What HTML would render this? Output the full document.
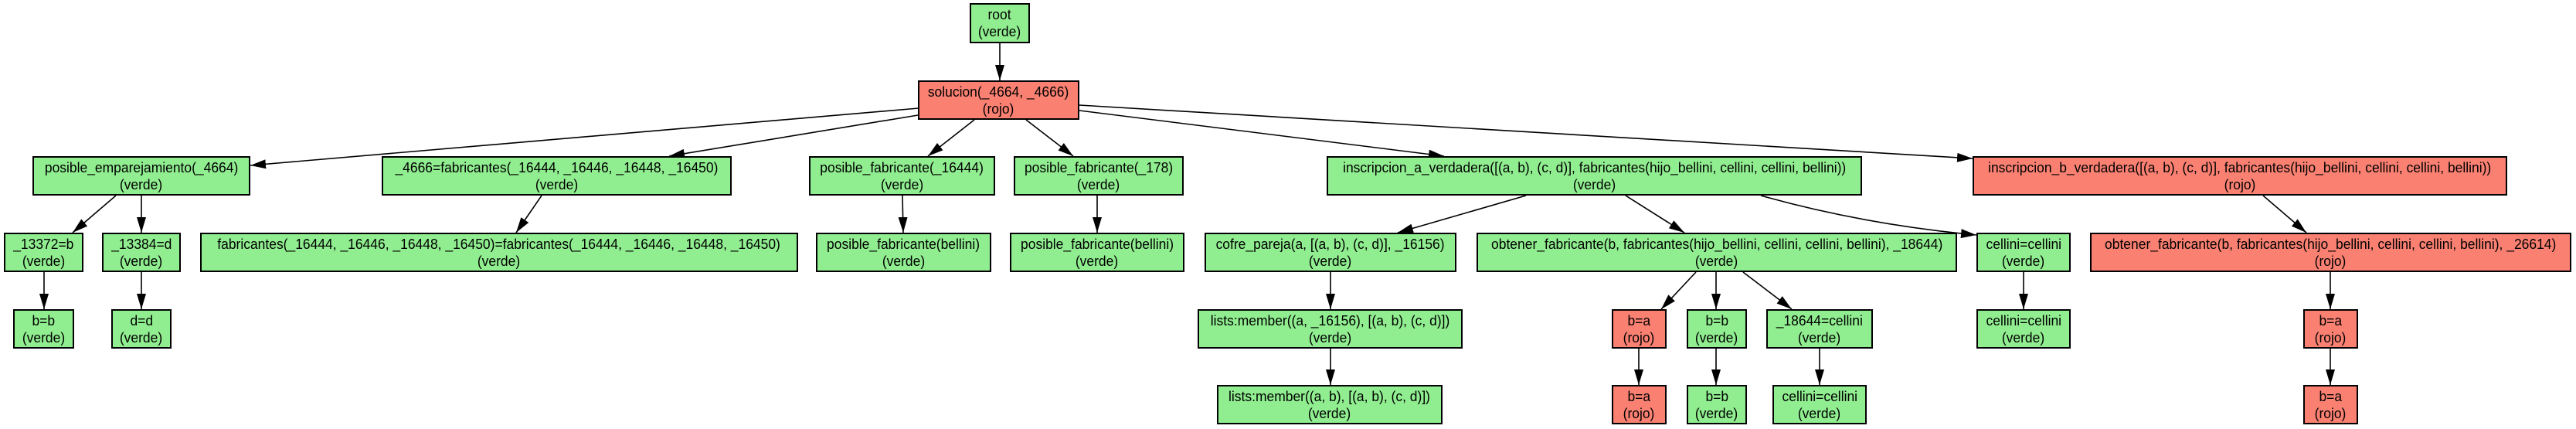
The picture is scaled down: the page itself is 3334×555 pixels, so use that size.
<!DOCTYPE html>
<html><head><meta charset="utf-8"><style>
body{margin:0;width:3334px;height:555px;background:#fff;position:relative;overflow:hidden;font-family:"Liberation Sans",Arial,sans-serif}
.n{position:absolute;box-sizing:border-box;border:2px solid #000;display:flex;flex-direction:column;justify-content:center;align-items:center;font-size:18px;line-height:22px;color:#000;white-space:nowrap;text-align:center}
.n span{display:inline-block;transform:scaleX(0.97)}
.g{background:#90ee90}.r{background:#fa8072}
svg{position:absolute;left:0;top:0}
</style></head><body>
<svg width="3334" height="555">
<defs><marker id="a" markerUnits="userSpaceOnUse" markerWidth="22" markerHeight="12" refX="20" refY="6" orient="auto"><path d="M0,0 L20,6 L0,12 z" fill="#000"/></marker></defs>
<g stroke="#000" stroke-width="1.6" fill="none" marker-end="url(#a)">
<line x1="1294" y1="56" x2="1294" y2="104"/>
<line x1="1189" y1="140" x2="324" y2="214"/>
<line x1="1188" y1="149" x2="866" y2="202"/>
<line x1="1261" y1="155" x2="1201" y2="202"/>
<line x1="1328" y1="155" x2="1389" y2="202"/>
<line x1="1397" y1="143" x2="1869" y2="202"/>
<line x1="1397" y1="136" x2="2553" y2="205"/>
<line x1="150" y1="253" x2="94" y2="301"/>
<line x1="183" y1="253" x2="183" y2="301"/>
<line x1="701" y1="253" x2="668" y2="301"/>
<line x1="1168" y1="253" x2="1169" y2="301"/>
<line x1="1420" y1="253" x2="1420" y2="301"/>
<line x1="1975" y1="253" x2="1809" y2="301"/>
<line x1="2104" y1="253" x2="2180" y2="301"/>
<path d="M2279,253 Q2410,290 2558,304"/>
<line x1="2929" y1="253" x2="2985" y2="301"/>
<line x1="57" y1="352" x2="57" y2="400"/>
<line x1="183" y1="352" x2="183" y2="400"/>
<line x1="1722" y1="352" x2="1722" y2="400"/>
<line x1="2195" y1="352" x2="2150" y2="400"/>
<line x1="2221" y1="352" x2="2221" y2="400"/>
<line x1="2256" y1="352" x2="2319" y2="400"/>
<line x1="2619" y1="352" x2="2619" y2="400"/>
<line x1="3016" y1="352" x2="3016" y2="400"/>
<line x1="1722" y1="451" x2="1722" y2="498"/>
<line x1="2121" y1="451" x2="2121" y2="498"/>
<line x1="2221" y1="451" x2="2221" y2="498"/>
<line x1="2355" y1="451" x2="2355" y2="498"/>
<line x1="3016" y1="451" x2="3016" y2="498"/>
</g></svg>

<div class="n g" style="left:1255px;top:4px;width:78px;height:52px"><span>root</span><span>(verde)</span></div>
<div class="n r" style="left:1188px;top:104px;width:209px;height:51px"><span>solucion(_4664, _4666)</span><span>(rojo)</span></div>

<div class="n g" style="left:42px;top:202px;width:282px;height:51px"><span>posible_emparejamiento(_4664)</span><span>(verde)</span></div>
<div class="n g" style="left:494px;top:202px;width:453px;height:51px"><span>_4666=fabricantes(_16444, _16446, _16448, _16450)</span><span>(verde)</span></div>
<div class="n g" style="left:1047px;top:202px;width:241px;height:51px"><span>posible_fabricante(_16444)</span><span>(verde)</span></div>
<div class="n g" style="left:1312px;top:202px;width:220px;height:51px"><span>posible_fabricante(_178)</span><span>(verde)</span></div>
<div class="n g" style="left:1717px;top:202px;width:693px;height:51px"><span>inscripcion_a_verdadera([(a, b), (c, d)], fabricantes(hijo_bellini, cellini, cellini, bellini))</span><span>(verde)</span></div>
<div class="n r" style="left:2553px;top:202px;width:692px;height:51px"><span>inscripcion_b_verdadera([(a, b), (c, d)], fabricantes(hijo_bellini, cellini, cellini, bellini))</span><span>(rojo)</span></div>

<div class="n g" style="left:5px;top:301px;width:103px;height:51px"><span>_13372=b</span><span>(verde)</span></div>
<div class="n g" style="left:132px;top:301px;width:102px;height:51px"><span>_13384=d</span><span>(verde)</span></div>
<div class="n g" style="left:259px;top:301px;width:774px;height:51px"><span>fabricantes(_16444, _16446, _16448, _16450)=fabricantes(_16444, _16446, _16448, _16450)</span><span>(verde)</span></div>
<div class="n g" style="left:1056px;top:301px;width:227px;height:51px"><span>posible_fabricante(bellini)</span><span>(verde)</span></div>
<div class="n g" style="left:1307px;top:301px;width:226px;height:51px"><span>posible_fabricante(bellini)</span><span>(verde)</span></div>
<div class="n g" style="left:1559px;top:301px;width:326px;height:51px"><span>cofre_pareja(a, [(a, b), (c, d)], _16156)</span><span>(verde)</span></div>
<div class="n g" style="left:1911px;top:301px;width:622px;height:51px"><span>obtener_fabricante(b, fabricantes(hijo_bellini, cellini, cellini, bellini), _18644)</span><span>(verde)</span></div>
<div class="n g" style="left:2558px;top:301px;width:122px;height:51px"><span>cellini=cellini</span><span>(verde)</span></div>
<div class="n r" style="left:2705px;top:301px;width:623px;height:51px"><span>obtener_fabricante(b, fabricantes(hijo_bellini, cellini, cellini, bellini), _26614)</span><span>(rojo)</span></div>

<div class="n g" style="left:17px;top:400px;width:79px;height:51px"><span>b=b</span><span>(verde)</span></div>
<div class="n g" style="left:144px;top:400px;width:78px;height:51px"><span>d=d</span><span>(verde)</span></div>
<div class="n g" style="left:1550px;top:400px;width:343px;height:51px"><span>lists:member((a, _16156), [(a, b), (c, d)])</span><span>(verde)</span></div>
<div class="n r" style="left:2086px;top:400px;width:71px;height:51px"><span>b=a</span><span>(rojo)</span></div>
<div class="n g" style="left:2183px;top:400px;width:78px;height:51px"><span>b=b</span><span>(verde)</span></div>
<div class="n g" style="left:2286px;top:400px;width:138px;height:51px"><span>_18644=cellini</span><span>(verde)</span></div>
<div class="n g" style="left:2558px;top:400px;width:122px;height:51px"><span>cellini=cellini</span><span>(verde)</span></div>
<div class="n r" style="left:2981px;top:400px;width:71px;height:51px"><span>b=a</span><span>(rojo)</span></div>

<div class="n g" style="left:1575px;top:498px;width:292px;height:51px"><span>lists:member((a, b), [(a, b), (c, d)])</span><span>(verde)</span></div>
<div class="n r" style="left:2086px;top:498px;width:71px;height:51px"><span>b=a</span><span>(rojo)</span></div>
<div class="n g" style="left:2183px;top:498px;width:78px;height:51px"><span>b=b</span><span>(verde)</span></div>
<div class="n g" style="left:2294px;top:498px;width:122px;height:51px"><span>cellini=cellini</span><span>(verde)</span></div>
<div class="n r" style="left:2981px;top:498px;width:71px;height:51px"><span>b=a</span><span>(rojo)</span></div>
</body></html>
